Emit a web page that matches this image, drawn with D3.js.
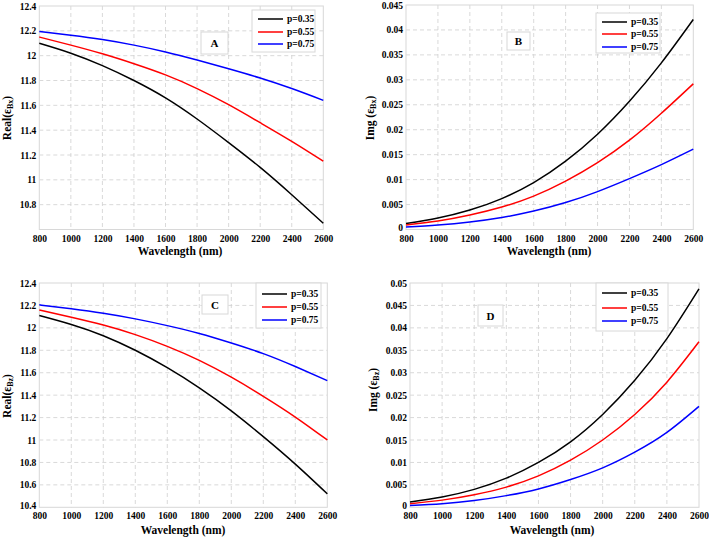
<!DOCTYPE html>
<html><head><meta charset="utf-8">
<script src="https://cdn.jsdelivr.net/npm/d3@7"></script>
<style>
body{margin:0;background:#fff;}
svg{display:block;font-family:"Liberation Serif","Times New Roman",serif;font-weight:bold;}
</style></head>
<body><svg id="c" width="709" height="537"></svg>
<script>
// ---- data ----
const wavelengths = [800,1000,1200,1400,1600,1800,2000,2200,2400,2600];
const seriesNames = ["p=0.35","p=0.55","p=0.75"];
const seriesColors = ["#000000","#ff0000","#0000ff"];

const realBx_035 = [12.10,12.02,11.92,11.80,11.66,11.49,11.30,11.10,10.88,10.65];
const realBx_055 = [12.15,12.085,12.015,11.935,11.845,11.735,11.605,11.46,11.31,11.15];
const realBx_075 = [12.195,12.165,12.13,12.085,12.03,11.965,11.895,11.82,11.735,11.64];

const imgBx_035 = [0.0012,0.0023,0.0039,0.0062,0.0094,0.0137,0.0191,0.0257,0.0334,0.0421];
const imgBx_055 = [0.0009,0.0017,0.0029,0.0045,0.0067,0.0097,0.0134,0.0179,0.0233,0.0292];
const imgBx_075 = [0.0005,0.0009,0.0015,0.0024,0.0037,0.0054,0.0076,0.0102,0.0130,0.0161];

const realBz_035 = [12.11,12.03,11.93,11.80,11.645,11.465,11.26,11.03,10.785,10.52];
const realBz_055 = [12.16,12.095,12.025,11.94,11.835,11.71,11.56,11.39,11.205,11.00];
const realBz_075 = [12.205,12.17,12.13,12.08,12.02,11.95,11.865,11.77,11.655,11.53];

const imgBz_035 = [0.0012,0.0023,0.0040,0.0065,0.0100,0.0146,0.0207,0.0283,0.0376,0.0487];
const imgBz_055 = [0.0008,0.0016,0.0028,0.0045,0.0070,0.0105,0.0150,0.0207,0.0279,0.0369];
const imgBz_075 = [0.0004,0.0008,0.0015,0.0026,0.0041,0.0062,0.0088,0.0123,0.0167,0.0225];

const xTicks = [800,1000,1200,1400,1600,1800,2000,2200,2400,2600];
const yTicksA = [10.8,11,11.2,11.4,11.6,11.8,12,12.2,12.4];
const yTicksB = [0,0.005,0.01,0.015,0.02,0.025,0.03,0.035,0.04,0.045];
const yTicksC = [10.4,10.6,10.8,11,11.2,11.4,11.6,11.8,12,12.2,12.4];
const yTicksD = [0,0.005,0.01,0.015,0.02,0.025,0.03,0.035,0.04,0.045,0.05];

// ---- layout ----
const panels = [
 {id:"A", series:[realBx_035,realBx_055,realBx_075], yDomain:[10.6,12.4], yTicks:yTicksA, dec:1,
  l:39.3,r:323.3,t:6,b:229.5, ylab:["Real(ε","Bx",")"], ylx:7, yly:118, xlx:180, xly:255,
  leg:{x:252,y:10,w:63,h:42,lx1:258,lx2:283,tx:287,rows:[19,32,44]}, box:{x:201,y:32,w:27,h:22}},
 {id:"B", series:[imgBx_035,imgBx_055,imgBx_075], yDomain:[0,0.045], yTicks:yTicksB, dec:3,
  l:406,r:693.3,t:5,b:229.5, ylab:["Img (ε","Bx",")"], ylx:370, yly:118, xlx:549, xly:255,
  leg:{x:596,y:13,w:64,h:40,lx1:602,lx2:627,tx:631,rows:[22,34,47]}, box:{x:507,y:32,w:23,h:18}},
 {id:"C", series:[realBz_035,realBz_055,realBz_075], yDomain:[10.4,12.4], yTicks:yTicksC, dec:1,
  l:39.3,r:327.3,t:283,b:507.3, ylab:["Real(ε","Bz",")"], ylx:7, yly:396, xlx:183, xly:534,
  leg:{x:256,y:283,w:65,h:45,lx1:262,lx2:287,tx:291,rows:[294,307,320]}, box:{x:202,y:295,w:26,h:19}},
 {id:"D", series:[imgBz_035,imgBz_055,imgBz_075], yDomain:[0,0.05], yTicks:yTicksD, dec:3,
  l:410,r:699,t:283,b:507.3, ylab:["Img (ε","Bz",")"], ylx:373, yly:390, xlx:552, xly:534,
  leg:{x:596,y:283,w:72,h:48,lx1:602,lx2:627,tx:631,rows:[293,308,321]}, box:{x:478,y:305,w:25,h:21}}
];

const svg = d3.select("#c");
const gridColor = "#cfcfcf", frameColor = "#d8d8d8";

panels.forEach(p => {
  const x = d3.scaleLinear().domain([800,2600]).range([p.l,p.r]);
  const y = d3.scaleLinear().domain(p.yDomain).range([p.b,p.t]);
  const g = svg.append("g");

  // grid
  g.selectAll(".vg").data(xTicks.slice(1,-1)).join("line")
    .attr("x1",d=>x(d)).attr("x2",d=>x(d)).attr("y1",p.t).attr("y2",p.b)
    .attr("stroke",gridColor).attr("stroke-dasharray","4,3").attr("stroke-width",0.8);
  g.selectAll(".hg").data(p.yTicks.filter(d=>d>p.yDomain[0]+1e-9 && d<p.yDomain[1]-1e-9)).join("line")
    .attr("x1",p.l).attr("x2",p.r).attr("y1",d=>y(d)).attr("y2",d=>y(d))
    .attr("stroke",gridColor).attr("stroke-dasharray","4,3").attr("stroke-width",0.8);

  // frame
  g.append("rect").attr("x",p.l).attr("y",p.t).attr("width",p.r-p.l).attr("height",p.b-p.t)
    .attr("fill","none").attr("stroke",frameColor).attr("stroke-width",1);

  // axes
  const xAxis = d3.axisBottom(x).tickValues(xTicks).tickSize(0).tickPadding(0).tickFormat(d3.format("d"));
  const xa = g.append("g").attr("transform",`translate(0,${p.b})`).call(xAxis);
  xa.select(".domain").remove();
  xa.selectAll("text").attr("dy",null).attr("y",12).attr("font-size",9.5)
    .attr("font-family","Liberation Serif").attr("font-weight","bold").attr("fill","#000");

  const yAxis = d3.axisLeft(y).tickValues(p.yTicks).tickSize(0).tickPadding(3)
    .tickFormat(d=>String(+d.toFixed(p.dec)));
  const ya = g.append("g").attr("transform",`translate(${p.l},0)`).call(yAxis);
  ya.select(".domain").remove();
  ya.selectAll("text").attr("font-size",9.5).attr("font-family","Liberation Serif")
    .attr("font-weight","bold").attr("fill","#000");
  ya.selectAll(".tick").filter(d=>Math.abs(d-p.yDomain[0])<1e-9).select("text").attr("dy","0.1em");

  // lines
  const line = d3.line().x((d,i)=>x(wavelengths[i])).y(d=>y(d)).curve(d3.curveNatural);
  p.series.forEach((s,k) => {
    g.append("path").datum(s).attr("d",line).attr("fill","none")
      .attr("stroke",seriesColors[k]).attr("stroke-width",1.5);
  });

  // axis titles
  g.append("text").attr("x",p.xlx).attr("y",p.xly).attr("text-anchor","middle")
    .attr("font-size",11.5).text("Wavelength (nm)");
  const yt = g.append("text").attr("transform",`translate(${p.ylx},${p.yly}) rotate(-90)`)
    .attr("text-anchor","middle").attr("dominant-baseline","central").attr("font-size",11.5);
  yt.append("tspan").text(p.ylab[0]);
  yt.append("tspan").attr("font-size",8).attr("dy",3).text(p.ylab[1]);
  yt.append("tspan").attr("dy",-3).text(p.ylab[2]);

  // legend
  const L = p.leg;
  g.append("rect").attr("x",L.x).attr("y",L.y).attr("width",L.w).attr("height",L.h)
    .attr("fill","#fff").attr("stroke",frameColor);
  seriesNames.forEach((n,k) => {
    g.append("line").attr("x1",L.lx1).attr("x2",L.lx2).attr("y1",L.rows[k]).attr("y2",L.rows[k])
      .attr("stroke",seriesColors[k]).attr("stroke-width",1.5);
    g.append("text").attr("x",L.tx).attr("y",L.rows[k]).attr("dominant-baseline","central")
      .attr("font-size",9.5).text(n);
  });

  // panel label
  const B = p.box;
  g.append("rect").attr("x",B.x).attr("y",B.y).attr("width",B.w).attr("height",B.h)
    .attr("fill","#fff").attr("stroke",frameColor);
  g.append("text").attr("x",B.x+B.w/2).attr("y",B.y+B.h/2).attr("text-anchor","middle")
    .attr("dominant-baseline","central").attr("font-size",11).text(p.id);
});
</script></body></html>
